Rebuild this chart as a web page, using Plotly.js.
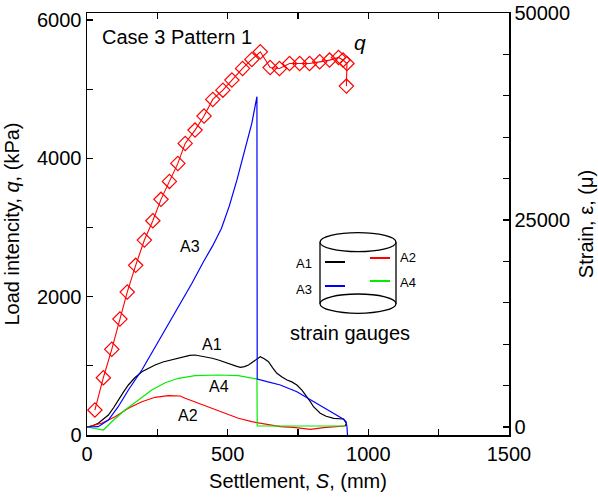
<!DOCTYPE html>
<html>
<head>
<meta charset="utf-8">
<script src="https://cdn.plot.ly/plotly-3.0.1.min.js"></script>
<style>
  html, body { margin: 0; padding: 0; background: #fff; }
  #chart { width: 598px; height: 498px; }
</style>
</head>
<body>
<div id="chart"></div>
<script>
// Load–settlement curve (left axis, kPa)
const settlementQ = [28, 58, 88, 117, 143, 173, 204, 234, 263, 293, 323, 349, 384, 416, 447, 483, 515, 553, 586, 616,
                     651, 684, 720, 756, 791, 827, 862, 894, 910, 924, 922];
const loadQ = [361, 828, 1238, 1676, 2066, 2452, 2818, 3097, 3406, 3666, 3926, 4215, 4407, 4610, 4851, 4985, 5130, 5299, 5429, 5539,
               5311, 5297, 5370, 5370, 5370, 5394, 5419, 5458, 5420, 5370, 5043];

// Strain gauge A1 (right axis, micro-strain)
const settlementA1 = [0, 20, 40, 58, 76, 95, 111, 130, 147, 170, 195, 220, 242, 270, 301, 325, 349, 365, 384, 400, 420, 445, 467, 490, 515,
                      530, 545, 560, 574, 592, 610, 616, 630, 645, 660, 675, 693, 711, 728, 746, 764, 782, 795, 805, 818, 829, 850,
                      877, 895, 912, 922, 918];
const strainA1 = [0, 150, 447, 900, 1450, 2350, 3262, 4250, 5074, 5950, 6680, 7150, 7490, 7850, 8094, 8350, 8492, 8650, 8698, 8600, 8492, 8300,
                  8094, 7800, 7490, 7350, 7212, 7300, 7490, 7900, 8299, 8492, 8250, 7888, 7150, 6487, 6050, 5678, 5450, 5074, 4450,
                  3660, 3000, 2452, 2050, 1655, 1300, 1051, 1000, 966, 447, 120];

// Strain gauge A2
const settlementA2 = [0, 52, 100, 147, 195, 242, 289, 331, 349, 396, 444, 491, 538, 586, 622, 687, 734, 794, 841, 918];
const strainA2 = [0, 447, 1244, 2259, 3056, 3587, 3781, 3745, 3467, 2863, 2259, 1655, 1051, 640, 447, 36, -36, -278, -85, 120];

// Strain gauge A3
const settlementA3 = [0, 40, 76, 111, 147, 195, 230, 278, 325, 373, 414, 447, 478, 506, 533, 562, 586, 604,
                      605, 640, 687, 746, 805, 865, 912, 921, 924, 926];
const strainA3 = [0, 36, 846, 2452, 4470, 6886, 8940, 11718, 14532, 17360, 19968, 21900, 24000, 26700, 29838, 33462, 36687, 39900,
                  5800, 5472, 5074, 4264, 3056, 1848, 930, 640, 36, -966];

// Strain gauge A4
const settlementA4 = [0, 28, 58, 88, 135, 183, 230, 278, 325, 384, 467, 538, 604, 605, 758, 918];
const strainA4 = [0, -157, -362, 640, 2054, 3262, 4470, 5351, 5883, 6197, 6282, 6197, 5798, 120, 120, 120];

// Curve labels placed next to each gauge trace (x in mm, y in micro-strain)
const gaugeLabels = ['A1', 'A2', 'A3', 'A4'];
const labelX = [445, 359, 367, 470];
const labelY = [9906, 1450, 21744, 4832];

const FONT = 'Liberation Sans, Arial, Helvetica, sans-serif';

// plot-area geometry in pixels, used to place the cylinder sketch
const M = { l: 87, r: 89, t: 13, b: 63 };
const W = 598, H = 498;
const PW = W - M.l - M.r, PH = H - M.t - M.b;
const px = v => (v - M.l) / PW;
const py = v => (H - M.b - v) / PH;

const traces = [
  { x: settlementA1, y: strainA1, yaxis: 'y2', mode: 'lines', line: { color: '#000000', width: 1.2 }, hoverinfo: 'skip' },
  { x: settlementA2, y: strainA2, yaxis: 'y2', mode: 'lines', line: { color: '#ff0000', width: 1.2 }, hoverinfo: 'skip' },
  { x: settlementA4, y: strainA4, yaxis: 'y2', mode: 'lines', line: { color: '#00ee00', width: 1.2 }, hoverinfo: 'skip' },
  { x: settlementA3, y: strainA3, yaxis: 'y2', mode: 'lines', line: { color: '#0000ff', width: 1.2 }, hoverinfo: 'skip' },
  { x: settlementQ, y: loadQ, yaxis: 'y', mode: 'lines+markers',
    line: { color: '#ff0000', width: 1.1 },
    marker: { symbol: 'diamond-open', size: 11, color: '#ff0000', line: { width: 1.2, color: '#ff0000' } },
    hoverinfo: 'skip' }
];

const annotations = [
  { text: 'Case 3 Pattern 1', xref: 'paper', yref: 'paper', x: px(100), y: py(37),
    xanchor: 'left', yanchor: 'middle', showarrow: false, font: { family: FONT, size: 20, color: '#000' } },
  { text: '<i>q</i>', xref: 'paper', yref: 'paper', x: px(360), y: py(42),
    xanchor: 'center', yanchor: 'middle', showarrow: false, font: { family: FONT, size: 21, color: '#000' } },
  { text: 'strain gauges', xref: 'paper', yref: 'paper', x: px(350), y: py(333),
    xanchor: 'center', yanchor: 'middle', showarrow: false, font: { family: FONT, size: 20, color: '#000' } },
  { text: 'A1', xref: 'paper', yref: 'paper', x: px(304), y: py(263),
    xanchor: 'center', yanchor: 'middle', showarrow: false, font: { family: FONT, size: 13, color: '#000' } },
  { text: 'A3', xref: 'paper', yref: 'paper', x: px(304), y: py(289),
    xanchor: 'center', yanchor: 'middle', showarrow: false, font: { family: FONT, size: 13, color: '#000' } },
  { text: 'A2', xref: 'paper', yref: 'paper', x: px(408), y: py(257),
    xanchor: 'center', yanchor: 'middle', showarrow: false, font: { family: FONT, size: 13, color: '#000' } },
  { text: 'A4', xref: 'paper', yref: 'paper', x: px(408), y: py(282),
    xanchor: 'center', yanchor: 'middle', showarrow: false, font: { family: FONT, size: 13, color: '#000' } }
];
gaugeLabels.forEach((t, i) => annotations.push({
  text: t, xref: 'x', yref: 'y2', x: labelX[i], y: labelY[i],
  xanchor: 'center', yanchor: 'middle', showarrow: false, font: { family: FONT, size: 16, color: '#000' }
}));

// cylinder sketch with the four gauge positions
const shapes = [
  { type: 'circle', xref: 'paper', yref: 'paper', x0: px(320), x1: px(396), y0: py(232.7), y1: py(251.7),
    line: { color: '#000', width: 1.3 } },
  { type: 'circle', xref: 'paper', yref: 'paper', x0: px(320), x1: px(396), y0: py(294), y1: py(313.3),
    line: { color: '#000', width: 1.3 } },
  { type: 'line', xref: 'paper', yref: 'paper', x0: px(320), x1: px(320), y0: py(242.2), y1: py(303.7),
    line: { color: '#000', width: 1.3 } },
  { type: 'line', xref: 'paper', yref: 'paper', x0: px(396), x1: px(396), y0: py(242.2), y1: py(303.7),
    line: { color: '#000', width: 1.3 } },
  { type: 'line', xref: 'paper', yref: 'paper', x0: px(325), x1: px(345), y0: py(262), y1: py(262),
    line: { color: '#000000', width: 2 } },
  { type: 'line', xref: 'paper', yref: 'paper', x0: px(325), x1: px(345), y0: py(286), y1: py(286),
    line: { color: '#0000ff', width: 2 } },
  { type: 'line', xref: 'paper', yref: 'paper', x0: px(370), x1: px(390), y0: py(258), y1: py(258),
    line: { color: '#ff0000', width: 2 } },
  { type: 'line', xref: 'paper', yref: 'paper', x0: px(370), x1: px(390), y0: py(281), y1: py(281),
    line: { color: '#00ee00', width: 2 } }
];

const axisCommon = {
  showgrid: false, zeroline: false, showline: true, linecolor: '#000', linewidth: 1.5,
  ticks: 'inside', ticklen: 6, tickwidth: 1.2, tickcolor: '#000',
  tickfont: { family: FONT, size: 20, color: '#000' },
  tickformat: 'd', exponentformat: 'none'
};

const layout = {
  width: W, height: H,
  margin: M,
  paper_bgcolor: '#fff', plot_bgcolor: '#fff',
  showlegend: false,
  font: { family: FONT, color: '#000' },
  xaxis: Object.assign({}, axisCommon, {
    range: [0, 1500], dtick: 500, tick0: 0, mirror: 'ticks',
    minor: { dtick: 250, ticks: 'inside', ticklen: 6, tickcolor: '#000', tickwidth: 1.2 },
    title: { text: 'Settlement, <i>S</i>, (mm)', font: { family: FONT, size: 20, color: '#000' }, standoff: 10 }
  }),
  yaxis: Object.assign({}, axisCommon, {
    range: [0, 6100], dtick: 2000, tick0: 0,
    minor: { dtick: 1000, ticks: 'inside', ticklen: 6, tickcolor: '#000', tickwidth: 1.2 },
    title: { text: 'Load intencity, <i>q</i>, (kPa)', font: { family: FONT, size: 20, color: '#000' }, standoff: 12 }
  }),
  yaxis2: Object.assign({}, axisCommon, {
    overlaying: 'y', side: 'right',
    range: [-966, 50000], dtick: 25000, tick0: 0,
    minor: { dtick: 5000, ticks: 'inside', ticklen: 6, tickcolor: '#000', tickwidth: 1.2 },
    title: { text: 'Strain, ε, (μ)', font: { family: FONT, size: 20, color: '#000' }, standoff: 10 }
  }),
  annotations: annotations,
  shapes: shapes
};

Plotly.newPlot('chart', traces, layout, { staticPlot: true, displayModeBar: false });
</script>
</body>
</html>
